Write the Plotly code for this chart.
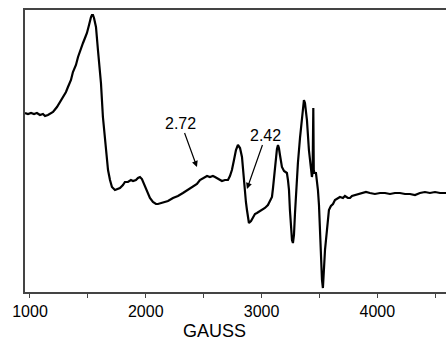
import plotly.graph_objects as go

# Magnetic field (gauss) and EPR signal (arbitrary units, baseline ~0)
field_gauss = [957, 983, 1009, 1035, 1060, 1086, 1112, 1130, 1155, 1173, 1199, 1233, 1259, 1285,
               1311, 1328, 1354, 1371, 1397, 1415, 1440, 1458, 1475, 1492, 1510, 1518, 1527, 1535,
               1544, 1553, 1570, 1587, 1613, 1630, 1656, 1674, 1691, 1708, 1734, 1760, 1777, 1803,
               1820, 1846, 1872, 1890, 1915, 1933, 1950, 1967, 1985, 2002, 2019, 2036, 2062, 2088,
               2105, 2131, 2157, 2192, 2235, 2278, 2321, 2364, 2408, 2442, 2468, 2494, 2529, 2554,
               2580, 2598, 2632, 2658, 2684, 2710, 2727, 2744, 2762, 2779, 2796, 2814, 2831, 2848,
               2865, 2874, 2891, 2909, 2926, 2943, 2960, 2986, 3004, 3029, 3055, 3073, 3090, 3099,
               3107, 3116, 3124, 3133, 3142, 3150, 3159, 3176, 3194, 3211, 3219, 3228, 3237, 3245,
               3254, 3263, 3271, 3280, 3289, 3297, 3314, 3332, 3349, 3358, 3366, 3375, 3392, 3409,
               3427, 3435, 3441, 3447, 3451, 3457, 3470, 3479, 3487, 3496, 3504, 3513, 3522, 3530,
               3539, 3548, 3565, 3574, 3582, 3599, 3617, 3634, 3651, 3677, 3703, 3720, 3746, 3764,
               3781, 3807, 3833, 3867, 3902, 3936, 3979, 4023, 4066, 4109, 4152, 4195, 4239, 4282,
               4325, 4368, 4411, 4454, 4498, 4541, 4593]
y_pixel_read = [113, 114, 113, 114, 113, 115, 114, 116, 115, 114, 112, 107, 102, 97,
                92, 87, 80, 72, 65, 57, 50, 43, 38, 33, 25, 20, 17, 15,
                15, 18, 27, 50, 83, 117, 150, 170, 180, 187, 190, 189, 188, 185,
                182, 182, 180, 181, 180, 178, 177, 179, 184, 189, 195, 198, 202, 204,
                204, 203, 202, 201, 198, 196, 193, 190, 187, 184, 180, 178, 176, 177,
                176, 177, 179, 181, 180, 180, 176, 170, 160, 150, 145, 148, 157, 183,
                202, 210, 223, 221, 218, 214, 213, 211, 210, 208, 205, 201, 197, 188,
                177, 165, 157, 149, 145, 148, 155, 167, 171, 172, 173, 180, 190, 210,
                230, 240, 243, 235, 213, 195, 163, 138, 117, 106, 100, 103, 120, 150,
                170, 177, 172, 108, 170, 173, 173, 180, 190, 205, 230, 255, 280, 288,
                270, 250, 230, 215, 210, 206, 204, 200, 199, 197, 198, 196, 198, 198,
                196, 195, 194, 193, 192, 193, 194, 193, 193, 194, 193, 193, 194, 194,
                195, 193, 192, 193, 192, 193, 193]
signal = [193 - v for v in y_pixel_read]

tick_vals = [1000, 2000, 3000, 4000]
tick_text = ["1000", "2000", "3000", "4000"]

FONT = "Arial, Liberation Sans, sans-serif"

fig = go.Figure()
fig.add_trace(go.Scatter(x=field_gauss, y=signal, mode="lines",
                         line=dict(color="black", width=2.2), showlegend=False))

fig.add_annotation(x=2442, y=26, ax=-16, ay=-44, text="2.72", showarrow=True,
                   arrowhead=2, arrowsize=1, arrowwidth=1.2, arrowcolor="black",
                   font=dict(family=FONT, size=16, color="black"))
fig.add_annotation(x=2874, y=4, ax=19, ay=-54, text="2.42", showarrow=True,
                   arrowhead=2, arrowsize=1, arrowwidth=1.2, arrowcolor="black",
                   font=dict(family=FONT, size=16, color="black"))
fig.add_annotation(x=2590, y=0, xref="x", yref="paper", yshift=-39, yanchor="middle",
                   text="GAUSS", showarrow=False,
                   font=dict(family=FONT, size=18, color="black"))

fig.update_layout(
    width=446, height=339,
    margin=dict(l=25, r=0, t=10, b=47, autoexpand=False),
    paper_bgcolor="white", plot_bgcolor="white",
    xaxis=dict(range=[957, 4593], tickvals=tick_vals, ticktext=tick_text,
               ticks="outside", ticklen=4, tickcolor="#444", tickwidth=1,
               showline=True, linecolor="#444", linewidth=1.5, mirror=True,
               showgrid=False, zeroline=False, automargin=False,
               tickfont=dict(family=FONT, size=16, color="black"),
               minor=dict(ticks="outside", ticklen=4, dtick=500, tick0=1500,
                          tickcolor="#444", showgrid=False)),
    yaxis=dict(range=[-99, 183], showticklabels=False, ticks="",
               showline=True, linecolor="#444", linewidth=1.5,
               showgrid=False, zeroline=False, automargin=False),
)

fig.write_html("out.html", config={"displayModeBar": False},
               post_script="document.body.style.margin='0';document.body.style.overflow='hidden';")
